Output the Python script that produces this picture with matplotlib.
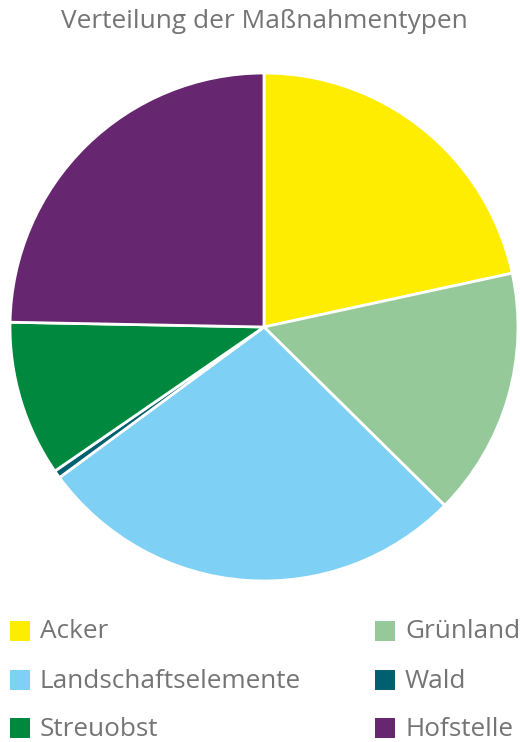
import matplotlib
matplotlib.use('Agg')
import matplotlib.pyplot as plt
from matplotlib.patches import Rectangle

categories = ['Acker', 'Grünland', 'Landschaftselemente', 'Wald', 'Streuobst', 'Hofstelle']
shares = [21.6, 15.8, 27.5, 0.5, 9.9, 24.7]
colors = ['#FFED00', '#95C99A', '#7FD0F5', '#00606F', '#00893E', '#662670']
title = 'Verteilung der Maßnahmentypen'

plt.rcParams['font.family'] = ['Open Sans', 'DejaVu Sans']
TEXT = '#747474'

W, H = 520, 742
fig = plt.figure(figsize=(W / 100, H / 100), dpi=100)

cx, cy, r = 264, 327, 254
ax = fig.add_axes([(cx - r) / W, (H - cy - r) / H, 2 * r / W, 2 * r / H])
ax.pie(shares, colors=colors, startangle=90, counterclock=False,
       wedgeprops=dict(edgecolor='white', linewidth=2))
ax.set_xlim(-1, 1)
ax.set_ylim(-1, 1)
ax.set_aspect('equal')
ax.axis('off')

fig.text(264 / W, 1 - 21 / H, title, ha='center', va='center',
         fontsize=18.9, color=TEXT)

# legend, two columns
col_x = [10, 375]
row_y = [631, 680, 728]
for i, (lab, col) in enumerate(zip(categories, colors)):
    x = col_x[i % 2]
    y = row_y[i // 2]
    fig.add_artist(Rectangle((x / W, 1 - (y + 10) / H), 20 / W, 20 / H,
                             transform=fig.transFigure, facecolor=col, edgecolor='none'))
    fig.text((x + 30) / W, 1 - (y + 1) / H, lab, ha='left', va='center',
             fontsize=18.8, color=TEXT)

fig.savefig('out.png', dpi=100)
